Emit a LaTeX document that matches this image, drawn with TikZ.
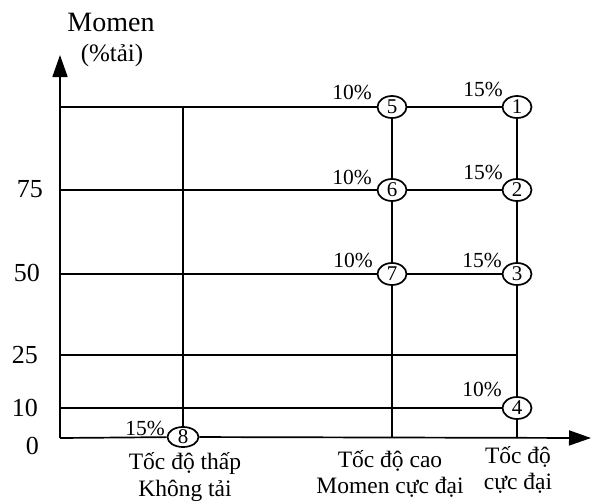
\documentclass[tikz,border=0pt]{standalone}
\usepackage{fontspec}
\setmainfont{Liberation Serif}
\usetikzlibrary{arrows.meta,shapes.geometric}
\begin{document}
\begin{tikzpicture}[x=1pt,y=-1pt,
  line/.style={line width=1.7pt},
  axis/.style={line width=1.7pt,-{Triangle[length=22pt,width=15pt]}},
  pt/.style={ellipse,draw,line width=1.7pt,fill=white,inner sep=0pt,
    minimum width=29pt,minimum height=22pt,font=\fontsize{21}{23}\selectfont},
  pct/.style={font=\fontsize{21.5}{23}\selectfont,inner sep=0pt},
  tick/.style={font=\fontsize{26}{28}\selectfont,inner sep=0pt,anchor=east},
  caption/.style={font=\fontsize{23.5}{26.5}\selectfont,align=center,inner sep=0pt}]
\useasboundingbox (0,0) rectangle (597,501);

% origin and axis ends
\coordinate (O) at (60,438);
\coordinate (ytip) at (60,55);
\coordinate (xtip) at (591,438);

% operating points
\node[pt] (n5) at (392,107) {5};
\node[pt] (n1) at (517,107) {1};
\node[pt] (n6) at (392,190) {6};
\node[pt] (n2) at (517,190) {2};
\node[pt] (n7) at (392,274) {7};
\node[pt] (n3) at (517,274) {3};
\node[pt] (n4) at (517,408) {4};
\node[pt,minimum width=31pt,minimum height=19pt] (n8) at (183,437) {8};

% grid line ends
\coordinate (L100) at (60,107);
\coordinate (L75) at (60,190);
\coordinate (L50) at (60,274);
\coordinate (L25) at (60,355);
\coordinate (L10) at (60,408);
\coordinate (R25) at (517,355);
\coordinate (T8) at (183,107);
\coordinate (B6) at (392,438);
\coordinate (B3) at (517,438);

% axes
\draw[axis] (O) -- (ytip);
\draw[axis] (O) -- (n8) -- (xtip);

% horizontal torque lines
\draw[line] (L100) -- (n5) -- (n1);
\draw[line] (L75) -- (n6) -- (n2);
\draw[line] (L50) -- (n7) -- (n3);
\draw[line] (L25) -- (R25);
\draw[line] (L10) -- (n4);

% vertical speed lines
\draw[line] (T8) -- (n8);
\draw[line] (n5) -- (n6) -- (n7) -- (B6);
\draw[line] (n1) -- (n2) -- (n3) -- (n4) -- (B3);

% weighting factors
\node[pct] (w5) at (352,92) {10\%};
\node[pct] (w1) at (483,89) {15\%};
\node[pct] (w6) at (352,177) {10\%};
\node[pct] (w2) at (483,172) {15\%};
\node[pct] (w7) at (353,260) {10\%};
\node[pct] (w3) at (482,260) {15\%};
\node[pct] (w4) at (482,389) {10\%};
\node[pct] (w8) at (145,428) {15\%};

% axis scale
\node[tick] (t75) at (43,189) {75};
\node[tick] (t50) at (40,273) {50};
\node[tick] (t25) at (38,355) {25};
\node[tick] (t10) at (38,408) {10};
\node[tick] (t0) at (39,446) {0};

% axis titles
\node[font=\fontsize{28}{30}\selectfont,inner sep=0pt] (ytitle) at (111,22) {Momen};
\node[font=\fontsize{25}{27}\selectfont,inner sep=0pt] (yunit) at (112,55) {(\%tải)};

% speed captions
\node[caption] (c8) at (185,477) {Tốc độ thấp\\Không tải};
\node[caption] (c6) at (390,474) {Tốc độ cao\\Momen cực đại};
\node[caption] (c3) at (518,470) {Tốc độ\\cực đại};
\end{tikzpicture}
\end{document}
